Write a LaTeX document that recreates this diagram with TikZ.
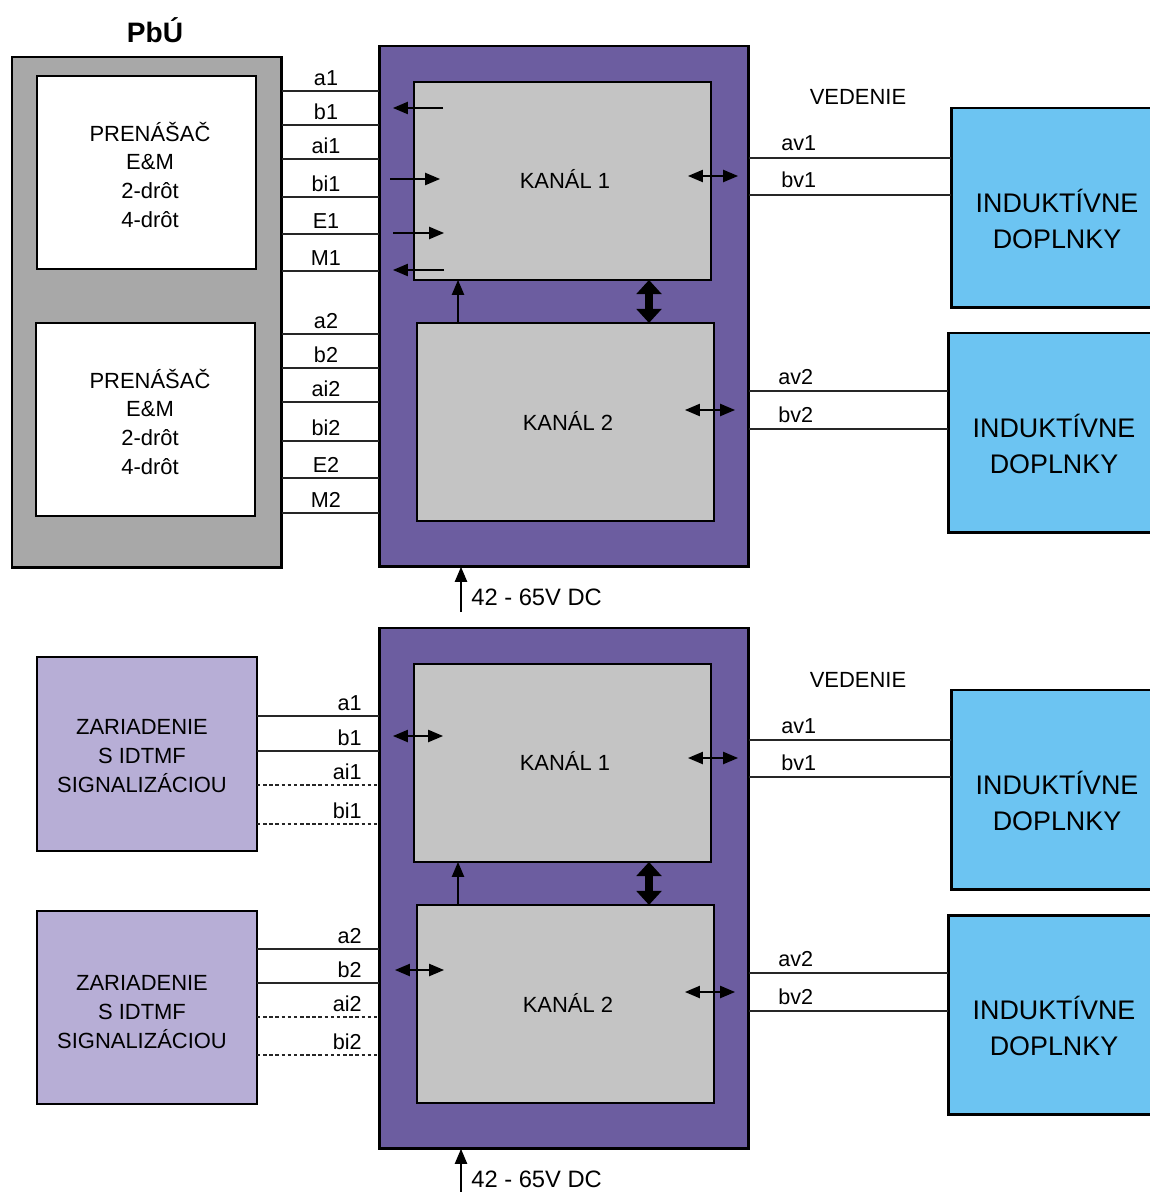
\documentclass[tikz,border=0pt]{standalone}
\usepackage{fontspec}
\setmainfont{Liberation Sans}
\usetikzlibrary{arrows.meta}

\definecolor{pbusiva}{HTML}{A8A8A8}
\definecolor{fialova}{HTML}{6C5DA0}
\definecolor{kanalsiva}{HTML}{C4C4C4}
\definecolor{modra}{HTML}{6CC4F2}
\definecolor{levandula}{HTML}{B7AED6}

\tikzset{
	blok/.style={draw=black, anchor=north west, inner sep=0pt, outer sep=0pt},
	hrubo/.style={line width=1.7pt},
	tenko/.style={line width=1pt},
	sip/.style={-{Triangle[length=8.5pt,width=7pt]}, line width=0.75pt},
	dvoj/.style={{Triangle[length=8.5pt,width=7pt]}-{Triangle[length=8.5pt,width=7pt]}, line width=0.75pt},
	hrubydvoj/.style={{Triangle[length=8pt,width=14pt]}-{Triangle[length=8pt,width=14pt]}, line width=4pt},
	vodic/.style={line width=0.75pt, draw=black!85},
	plna/.style={},
	carka/.style={dash pattern=on 2pt off 1.5pt},
	txt/.style={font=\fontsize{12.5}{16.5}\selectfont, align=center},
	velky/.style={font=\fontsize{15.3}{20}\selectfont, align=center},
	stitok/.style={font=\fontsize{12.3}{14}\selectfont, anchor=base, inner sep=0pt},
}

\begin{document}
\begin{tikzpicture}[x=0.02cm, y=-0.02cm]
	\useasboundingbox (0,0) rectangle (1149,1192);

	% ustredna PbU
	\node[font=\fontsize{16}{18}\selectfont\bfseries, anchor=base] (pbunadpis) at (155,43) {PbÚ};
	\node[blok, hrubo, fill=pbusiva, minimum width=5.4cm, minimum height=10.22cm] (pbu) at (12,57) {};
	\node[blok, tenko, fill=white, minimum width=4.38cm, minimum height=3.86cm] (prenA) at (37,76) {};
	\node[blok, tenko, fill=white, minimum width=4.38cm, minimum height=3.86cm] (prenB) at (36,323) {};
	\node[txt] (prentA) at (150,175) {PRENÁŠAČ\\E\&M\\2-drôt\\4-drôt};
	\node[txt] (prentB) at (150,422) {PRENÁŠAČ\\E\&M\\2-drôt\\4-drôt};

	% zariadenia s IDTMF
	\node[blok, tenko, fill=levandula, minimum width=4.4cm, minimum height=3.88cm] (zarA) at (37,657) {};
	\node[blok, tenko, fill=levandula, minimum width=4.4cm, minimum height=3.86cm] (zarB) at (37,911) {};
	\node[txt] (zartA) at (142,756) {ZARIADENIE\\S IDTMF\\SIGNALIZÁCIOU};
	\node[txt] (zartB) at (142,1012) {ZARIADENIE\\S IDTMF\\SIGNALIZÁCIOU};

	% dva rovnake bloky s kanalmi
	\foreach \s/\oy in {u/0, d/582} {
		\node[blok, hrubo, fill=fialova, minimum width=7.4cm, minimum height=10.42cm] (ram\s) at (379,46+\oy) {};
		\node[blok, tenko, fill=kanalsiva, minimum width=5.94cm, minimum height=3.96cm] (kanA\s) at (414,82+\oy) {};
		\node[blok, tenko, fill=kanalsiva, minimum width=5.94cm, minimum height=3.96cm] (kanB\s) at (417,323+\oy) {};
		\node[txt] (kantA\s) at (565,179+\oy) {KANÁL 1};
		\node[txt] (kantB\s) at (568,421+\oy) {KANÁL 2};
		\node[blok, hrubo, fill=modra, minimum width=4.22cm, minimum height=4cm] (indA\s) at (951,108+\oy) {};
		\node[blok, hrubo, fill=modra, minimum width=4.24cm, minimum height=4cm] (indB\s) at (948,333+\oy) {};
		\node[velky] (indtA\s) at (1057,219+\oy) {INDUKTÍVNE\\DOPLNKY};
		\node[velky] (indtB\s) at (1054,444+\oy) {INDUKTÍVNE\\DOPLNKY};
		\node[txt, anchor=base, inner sep=0pt] (ved\s) at (858,105+\oy) {VEDENIE};
		\foreach \n/\y/\k/\lx in {av1/158/A/781, bv1/195/A/781, av2/391/B/778, bv2/429/B/778} {
			\draw[vodic] (ram\s.east |- 0,\y+\oy) -- (ind\k\s.west |- 0,\y+\oy);
			\node[stitok, anchor=base west] (\n\s) at (\lx,\y-7+\oy) {\n};
		}
		\draw[dvoj] (688,176+\oy) -- (738,176+\oy);
		\draw[dvoj] (685,410+\oy) -- (735,410+\oy);
		\draw[sip] (kanB\s.north -| 458,0) -- (kanA\s.south -| 458,0);
		\draw[hrubydvoj] (kanA\s.south -| 649,0) -- (kanB\s.north -| 649,0);
		% napajanie
		\coordinate (nap\s) at (461,612+\oy);
		\draw[sip] (nap\s) -- (ram\s.south -| nap\s);
		\node[font=\fontsize{13.5}{16}\selectfont, anchor=base west, inner sep=0pt] (volt\s) at (471,605+\oy) {42 - 65V DC};
	}

	% vodice PbU
	\foreach \n/\y in {a1/91, b1/125, ai1/159, bi1/197, E1/234, M1/271, a2/334, b2/368, ai2/402, bi2/441, E2/478, M2/513} {
		\draw[vodic] (pbu.east |- 0,\y) -- (ramu.west |- 0,\y);
		\node[stitok] (u\n) at (326,\y-5.5) {\n};
	}
	\draw[sip] (443,108) -- (393,108);
	\draw[sip] (390,179) -- (440,179);
	\draw[sip] (393,233) -- (444,233);
	\draw[sip] (444,270) -- (393,270);

	% vodice zariadeni
	\foreach \n/\y/\z/\typ in {a1/716/A/plna, b1/751/A/plna, ai1/785/A/carka, bi1/824/A/carka, a2/949/B/plna, b2/983/B/plna, ai2/1017/B/carka, bi2/1055/B/carka} {
		\draw[vodic, \typ] (zar\z.east |- 0,\y) -- (ramd.west |- 0,\y);
		\node[stitok, anchor=base east] (d\n) at (362,\y-6) {\n};
	}
	\draw[dvoj] (393,736) -- (443,736);
	\draw[dvoj] (395,970) -- (444,970);
\end{tikzpicture}
\end{document}
